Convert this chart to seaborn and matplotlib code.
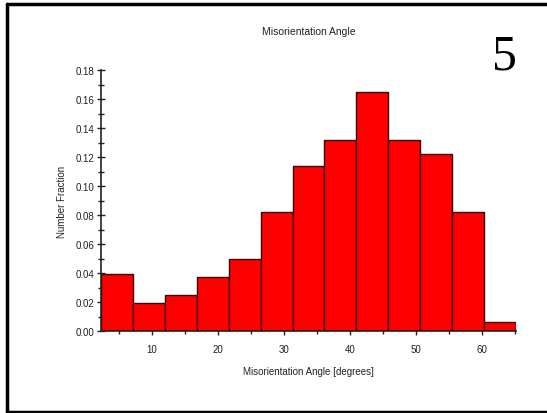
import matplotlib
matplotlib.use("Agg")
import matplotlib.pyplot as plt
from matplotlib.lines import Line2D
from matplotlib.ticker import MultipleLocator
import seaborn as sns
import numpy as np

# Data
bin_start = 2.3
bin_width = 4.83
fractions = [0.039, 0.019, 0.025, 0.037, 0.050, 0.082, 0.114, 0.132,
             0.165, 0.132, 0.122, 0.082, 0.006]
xticks = [10, 20, 30, 40, 50, 60]
yticks = [0.00, 0.02, 0.04, 0.06, 0.08, 0.10, 0.12, 0.14, 0.16, 0.18]

sns.set_style("white")
plt.rcParams['font.family'] = ['Liberation Sans', 'DejaVu Sans']

n = len(fractions)
edges = [bin_start + i * bin_width for i in range(n + 1)]
centers = [bin_start + (i + 0.5) * bin_width for i in range(n)]

fig = plt.figure(figsize=(5.47, 4.14), dpi=100)
ax = fig.add_axes([0.1846, 0.198, 0.7588, 0.6305])

sns.histplot(x=centers, weights=fractions, bins=edges, ax=ax,
             color="#ff0000", alpha=1.0, edgecolor="#3a0000", linewidth=1.0)

ax.set_xlim(edges[0], edges[-1])
ax.set_ylim(0, 0.18)
ax.set_xticks(xticks)
ax.set_yticks(yticks)
ax.set_yticklabels([f"{v:.2f}" for v in yticks])
ax.xaxis.set_minor_locator(MultipleLocator(5))
ax.yaxis.set_minor_locator(MultipleLocator(0.01))
ax.tick_params(axis='both', which='both', bottom=True, left=True)
ax.tick_params(axis='both', which='major', direction='inout', length=6, width=1,
               labelsize=7, colors='#222222', pad=2)
ax.tick_params(axis='both', which='minor', direction='inout', length=5, width=1,
               colors='#222222')
ax.tick_params(axis='x', which='major', pad=6)
for s in ['top', 'right']:
    ax.spines[s].set_visible(False)
for s in ['left', 'bottom']:
    ax.spines[s].set_color('#222222')
    ax.spines[s].set_linewidth(1.2)

ax.set_xlabel("Misorientation Angle [degrees]", fontsize=7, color='#222222', labelpad=9)
ax.set_ylabel("Number Fraction", fontsize=7, color='#222222', labelpad=6)
ax.set_title("Misorientation Angle", fontsize=7.5, color='#222222', pad=26)

fig.text(0.923, 0.862, "5", fontsize=36, family=['Liberation Serif', 'DejaVu Serif'],
         ha='center', va='center', color='black')

# figure frame (left, top, bottom)
fig.add_artist(Line2D([0.012, 0.012], [0.003, 0.988], transform=fig.transFigure,
                      color='black', linewidth=2.5))
fig.add_artist(Line2D([0.012, 1.0], [0.988, 0.988], transform=fig.transFigure,
                      color='black', linewidth=2.5))
fig.add_artist(Line2D([0.012, 1.0], [0.003, 0.003], transform=fig.transFigure,
                      color='black', linewidth=2.5))

fig.savefig("out.png", dpi=100)
